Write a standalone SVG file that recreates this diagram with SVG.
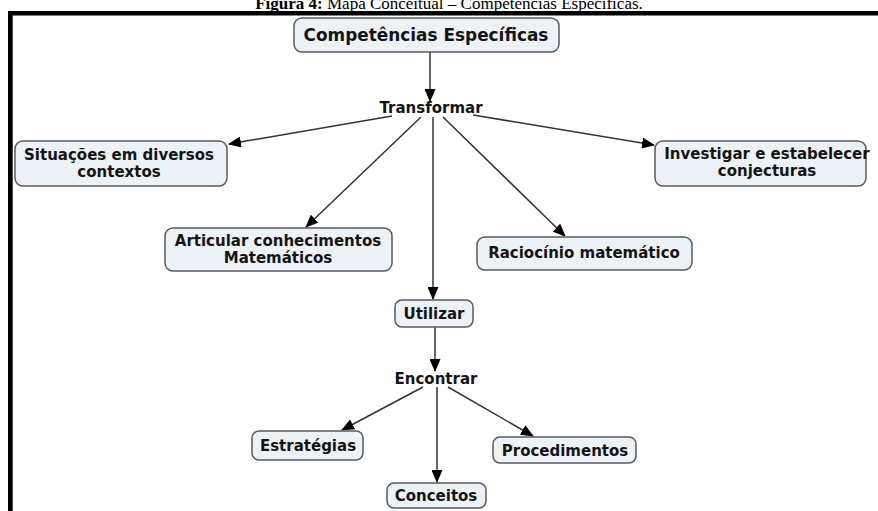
<svg xmlns="http://www.w3.org/2000/svg" width="878" height="511" viewBox="0 0 878 511">
  <style>
    .box { fill: #edf2f6; stroke: #555b60; stroke-width: 1.5; }
    .lbl { font-family: "DejaVu Sans", Verdana, sans-serif; font-weight: bold; font-size: 15px; fill: #141414; text-anchor: middle; }
    .big { font-size: 16.9px; }
    .link { stroke: #333; stroke-width: 1.5; fill: none; marker-end: url(#arrow); }
    .cap { font-family: "Liberation Serif", "Times New Roman", serif; font-size: 17px; fill: #000; text-anchor: middle; }
  </style>
  <defs>
    <marker id="arrow" markerUnits="userSpaceOnUse" markerWidth="13" markerHeight="11" viewBox="0 0 13 11" refX="12" refY="5.5" orient="auto">
      <path d="M0,0 L13,5.5 L0,11 Z" fill="#000"/>
    </marker>
  </defs>
  <rect width="878" height="511" fill="#fff"/>

  <!-- caption, clipped by the frame top -->
  <text class="cap" x="449" y="9"><tspan font-weight="bold">Figura 4:</tspan> Mapa Conceitual – Competências Específicas.</text>

  <!-- frame -->
  <rect x="8" y="11" width="870" height="4.5" fill="#000"/>
  <rect x="8" y="11" width="4.7" height="500" fill="#000"/>

  <g id="connectors">
    <line class="link" x1="430" y1="52" x2="430" y2="101"/>
    <line class="link" x1="392" y1="116" x2="229" y2="144"/>
    <line class="link" x1="473" y1="115" x2="654" y2="145"/>
    <line class="link" x1="421" y1="117" x2="306" y2="227"/>
    <line class="link" x1="433" y1="117" x2="433" y2="299"/>
    <line class="link" x1="443" y1="117" x2="565" y2="236"/>
    <line class="link" x1="435" y1="327" x2="435" y2="371"/>
    <line class="link" x1="423" y1="387" x2="342" y2="430"/>
    <line class="link" x1="437" y1="387" x2="437" y2="482"/>
    <line class="link" x1="448" y1="387" x2="533" y2="436"/>
  </g>

  <g id="competencias">
    <rect class="box" x="294" y="18" width="265" height="34" rx="8"/>
    <text class="lbl big" x="426" y="41">Competências Específicas</text>
  </g>
  <g id="transformar">
    <text class="lbl" x="431" y="113">Transformar</text>
  </g>
  <g id="situacoes">
    <rect class="box" x="15" y="141" width="212" height="45" rx="8"/>
    <text class="lbl" x="119" y="160">Situações em diversos</text>
    <text class="lbl" x="119" y="177">contextos</text>
  </g>
  <g id="investigar">
    <rect class="box" x="655" y="141" width="211" height="45" rx="8"/>
    <text class="lbl" x="767" y="159">Investigar e estabelecer</text>
    <text class="lbl" x="767" y="176">conjecturas</text>
  </g>
  <g id="articular">
    <rect class="box" x="165" y="228" width="227" height="43" rx="8"/>
    <text class="lbl" x="278" y="246">Articular conhecimentos</text>
    <text class="lbl" x="278" y="263">Matemáticos</text>
  </g>
  <g id="raciocinio">
    <rect class="box" x="477" y="237" width="215" height="33" rx="8"/>
    <text class="lbl" x="584" y="258">Raciocínio matemático</text>
  </g>
  <g id="utilizar">
    <rect class="box" x="395" y="300" width="78" height="27" rx="7"/>
    <text class="lbl" x="434" y="319">Utilizar</text>
  </g>
  <g id="encontrar">
    <text class="lbl" x="436" y="384">Encontrar</text>
  </g>
  <g id="estrategias">
    <rect class="box" x="252" y="431" width="111" height="29" rx="7"/>
    <text class="lbl" x="308" y="451">Estratégias</text>
  </g>
  <g id="conceitos">
    <rect class="box" x="387" y="483" width="99" height="25" rx="7"/>
    <text class="lbl" x="436" y="501">Conceitos</text>
  </g>
  <g id="procedimentos">
    <rect class="box" x="493" y="437" width="143" height="26" rx="7"/>
    <text class="lbl" x="565" y="456">Procedimentos</text>
  </g>
</svg>
